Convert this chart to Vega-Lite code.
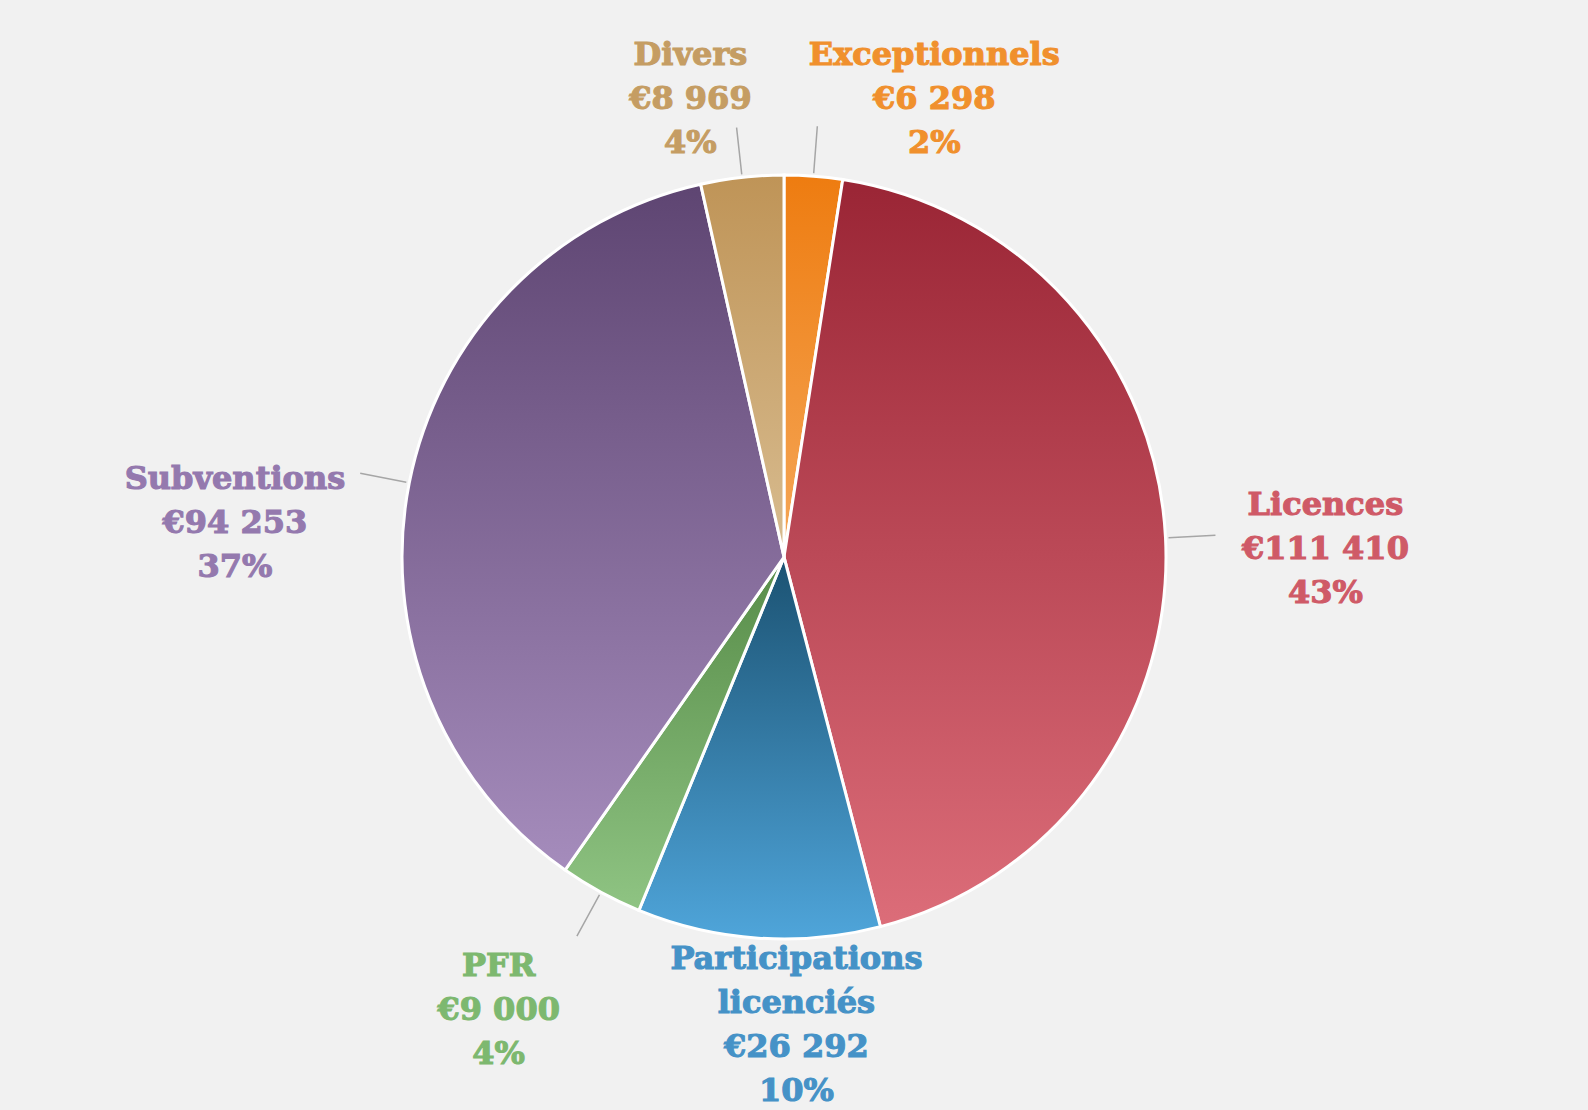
{
  "$schema": "https://vega.github.io/schema/vega-lite/v6.json",
  "autosize": "none",
  "padding": {"left": 10, "top": 6, "right": 30, "bottom": 2},
  "width": 1548,
  "height": 1102,
  "background": "#f1f1f1",
  "config": {
    "view": {"fill": "#f1f1f1", "stroke": "#d4d4d4", "strokeWidth": 2.5, "strokeDash": [1548, 2650, 1102, 10]}
  },
  "data": {
    "values": [
      {"cat": "Exceptionnels", "value": 6298},
      {"cat": "Licences", "value": 111410},
      {"cat": "Participations licenciés", "value": 26292},
      {"cat": "PFR", "value": 9000},
      {"cat": "Subventions", "value": 94253},
      {"cat": "Divers", "value": 8969}
    ]
  },
  "transform": [
    {"window": [{"op": "row_number", "as": "idx"}]},
    {"joinaggregate": [{"op": "sum", "field": "value", "as": "total"}]},
    {"stack": "value", "groupby": [], "sort": [{"field": "idx", "order": "ascending"}], "as": ["v0", "v1"]},
    {"calculate": "(datum.v0 + datum.v1) / 2", "as": "mid"},
    {"calculate": "replace(datum.cat, ' ', '\\n') + '\\n€' + replace(format(datum.value, ','), ',', ' ') + '\\n' + format(datum.value / datum.total, '.0%')", "as": "label"}
  ],
  "layer": [
    {
      "mark": {"type": "arc", "outerRadius": 382, "stroke": "#ffffff", "strokeWidth": 3},
      "encoding": {
        "theta": {"field": "v1", "type": "quantitative", "stack": null, "scale": {"nice": false, "zero": true}},
        "theta2": {"field": "v0"},
        "fill": {
          "condition": [
            {"test": "datum.cat === 'Exceptionnels'", "value": {"gradient": "linear", "x1": 0, "y1": 0, "x2": 0, "y2": 1, "stops": [{"offset": 0, "color": "#ee7c10"}, {"offset": 1, "color": "#f5a758"}]}},
            {"test": "datum.cat === 'Licences'", "value": {"gradient": "linear", "x1": 0, "y1": 0, "x2": 0, "y2": 1, "stops": [{"offset": 0, "color": "#9a2535"}, {"offset": 1, "color": "#dc6d79"}]}},
            {"test": "datum.cat === 'Participations licenciés'", "value": {"gradient": "linear", "x1": 0, "y1": 0, "x2": 0, "y2": 1, "stops": [{"offset": 0, "color": "#1b5272"}, {"offset": 1, "color": "#4fa5da"}]}},
            {"test": "datum.cat === 'PFR'", "value": {"gradient": "linear", "x1": 0, "y1": 0, "x2": 0, "y2": 1, "stops": [{"offset": 0, "color": "#578c48"}, {"offset": 1, "color": "#8fc483"}]}},
            {"test": "datum.cat === 'Subventions'", "value": {"gradient": "linear", "x1": 0, "y1": 0, "x2": 0, "y2": 1, "stops": [{"offset": 0, "color": "#5e4572"}, {"offset": 1, "color": "#a58cbc"}]}},
            {"test": "datum.cat === 'Divers'", "value": {"gradient": "linear", "x1": 0, "y1": 0, "x2": 0, "y2": 1, "stops": [{"offset": 0, "color": "#bf9457"}, {"offset": 1, "color": "#d8bc90"}]}}
          ],
          "value": "#999999"
        }
      }
    },
    {
      "transform": [{"filter": "datum.cat !== 'Participations licenciés'"}],
      "mark": {"type": "arc", "innerRadius": 385, "outerRadius": 432, "stroke": "#a6a6a6", "strokeWidth": 1.5, "fillOpacity": 0},
      "encoding": {
        "theta": {"field": "mid", "type": "quantitative", "stack": null},
        "theta2": {"field": "mid"}
      }
    },
    {
      "mark": {
        "type": "text",
        "radius": 470,
        "font": "DejaVu Serif",
        "fontSize": 32,
        "fontWeight": "bold",
        "strokeWidth": 1.1,
        "lineBreak": "\n",
        "lineHeight": 44,
        "align": "center",
        "baseline": "middle",
        "dx": {"expr": "datum.cat === 'Exceptionnels' ? 114 : datum.cat === 'Licences' ? 72 : datum.cat === 'Participations licenciés' ? 44 : datum.cat === 'PFR' ? -60 : datum.cat === 'Subventions' ? -88 : -42"},
        "dy": {"expr": "datum.cat === 'Exceptionnels' ? -33 : datum.cat === 'Licences' ? -28 : datum.cat === 'Participations licenciés' ? -67 : datum.cat === 'PFR' ? -3 : datum.cat === 'Subventions' ? 13 : -35"}
      },
      "encoding": {
        "theta": {"field": "mid", "type": "quantitative", "stack": null},
        "text": {"field": "label"},
        "color": {
          "field": "cat",
          "type": "nominal",
          "legend": null,
          "scale": {
            "domain": ["Exceptionnels", "Licences", "Participations licenciés", "PFR", "Subventions", "Divers"],
            "range": ["#f0902d", "#cf5a67", "#4592c7", "#7db86f", "#9479ae", "#c59d63"]
          }
        },
        "stroke": {
          "field": "cat",
          "type": "nominal",
          "legend": null,
          "scale": {
            "domain": ["Exceptionnels", "Licences", "Participations licenciés", "PFR", "Subventions", "Divers"],
            "range": ["#f0902d", "#cf5a67", "#4592c7", "#7db86f", "#9479ae", "#c59d63"]
          }
        }
      }
    }
  ]
}
